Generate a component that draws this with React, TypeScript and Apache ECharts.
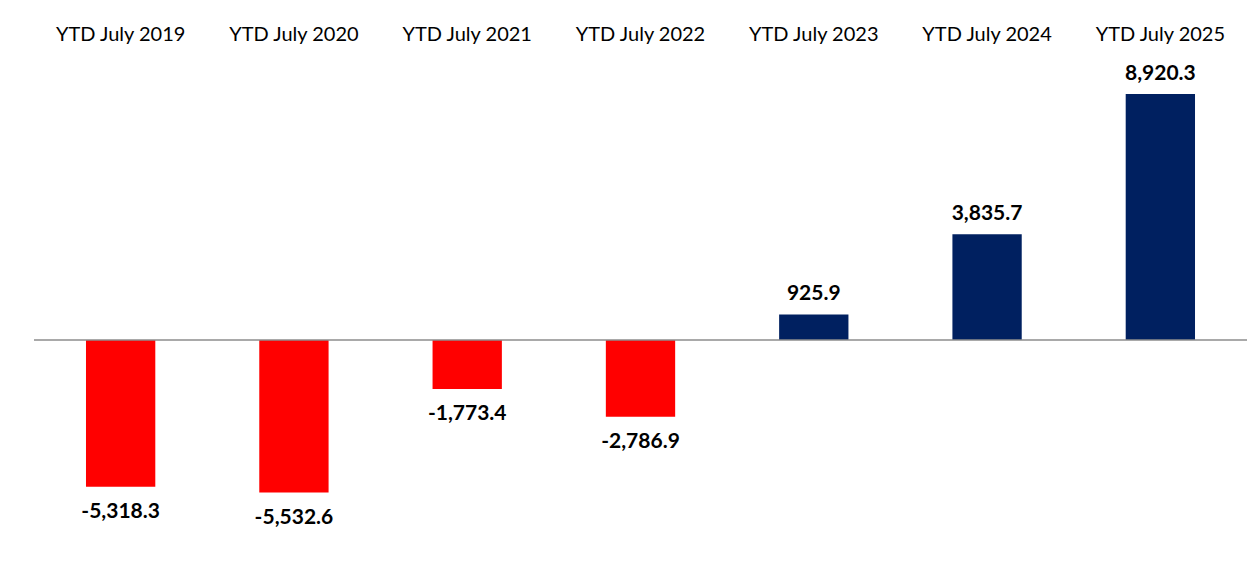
import React, { useEffect, useRef } from "react";
import * as echarts from "echarts";

const categories = [
  "YTD July 2019",
  "YTD July 2020",
  "YTD July 2021",
  "YTD July 2022",
  "YTD July 2023",
  "YTD July 2024",
  "YTD July 2025",
];
const values = [-5318.3, -5532.6, -1773.4, -2786.9, 925.9, 3835.7, 8920.3];

const POS = "#002060";
const NEG = "#FF0000";

function fmt(v: number) {
  return v.toLocaleString("en-US", { minimumFractionDigits: 1, maximumFractionDigits: 1 });
}

export default function App() {
  const ref = useRef<HTMLDivElement>(null);
  useEffect(() => {
    document.body.style.margin = "0";
    const chart = echarts.init(ref.current!, null, { renderer: "svg" });
    const font = "Lato, 'Open Sans', sans-serif";
    chart.setOption({
      animation: false,
      grid: { left: 34, right: 8, top: 64.2, bottom: 12.4 },
      xAxis: {
        type: "category",
        data: categories,
        position: "top",
        axisLine: { show: false },
        axisTick: { show: false },
        axisLabel: { color: "#000", fontSize: 20, fontFamily: font, margin: 21 },
      },
      yAxis: {
        type: "value",
        min: -8000,
        max: 10000,
        show: false,
        splitLine: { show: false },
      },
      series: [
        {
          type: "bar",
          barWidth: "40%",
          data: values.map((v) => ({
            value: v,
            itemStyle: { color: v < 0 ? NEG : POS },
            label: { position: v < 0 ? "bottom" : "top" },
          })),
          label: {
            show: true,
            distance: 12,
            color: "#000",
            fontWeight: "bold",
            fontSize: 21,
            fontFamily: font,
            formatter: (p: any) => fmt(p.value),
          },
          markLine: {
            silent: true,
            symbol: "none",
            label: { show: false },
            lineStyle: { color: "#8c8c8c", width: 1.5, type: "solid" },
            data: [{ yAxis: 0 }],
          },
        },
      ],
    });
    return () => chart.dispose();
  }, []);
  return <div ref={ref} style={{ width: 1255, height: 573 }} />;
}
